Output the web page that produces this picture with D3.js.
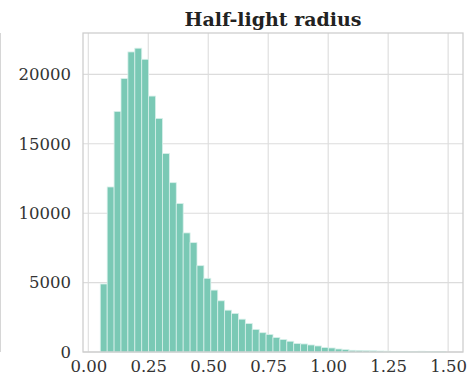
<!DOCTYPE html>
<html>
<head>
<meta charset="utf-8">
<script src="https://cdn.jsdelivr.net/npm/d3@7"></script>
<style>
  html, body { margin: 0; padding: 0; background: #fff; }
  svg { display: block; }
</style>
</head>
<body>
<svg id="chart" width="470" height="384"></svg>
<script>
// ---- data ----
const title = "Half-light radius";
const binStart = 0.05;
const binEnd = 1.49;
const counts = [
  4900, 11890, 17330, 19700, 21620, 21890, 21090, 18440, 16830, 14300,
  12200, 10700, 8580, 7880, 6220, 5310, 4460, 3690, 3015, 2780,
  2365, 2050, 1630, 1390, 1265, 1040, 900, 775, 610, 580,
  507, 435, 319, 290, 217, 174, 123, 116, 95, 85,
  70, 60, 45, 40, 35, 30, 55, 25, 20, 15
];
const xTicks = [0.00, 0.25, 0.50, 0.75, 1.00, 1.25, 1.50];
const yTicks = [0, 5000, 10000, 15000, 20000];

// ---- layout ----
const W = 470, H = 384;
const m = { left: 83, right: 7, top: 33, bottom: 32 };
const svg = d3.select("#chart");
const pw = W - m.left - m.right, ph = H - m.top - m.bottom;

const nb = counts.length;
const bw = (binEnd - binStart) / nb;
const bins = counts.map((c, i) => ({ x0: binStart + i * bw, x1: binStart + (i + 1) * bw, c }));

const span = binEnd - binStart;
const x = d3.scaleLinear()
  .domain([binStart - 0.05 * span, binEnd + 0.05 * span])
  .range([m.left, m.left + pw]);
const ymax = d3.max(counts) * 1.05;
const y = d3.scaleLinear().domain([0, ymax]).range([m.top + ph, m.top]);

// neighbor panel edge remnant
svg.append("line").attr("x1", 0.5).attr("x2", 0.5).attr("y1", m.top).attr("y2", m.top + ph)
  .attr("stroke", "#d6d6d6").attr("stroke-width", 1);

// grid
const g = svg.append("g");
g.selectAll(".vg").data(xTicks).join("line")
  .attr("x1", d => x(d)).attr("x2", d => x(d))
  .attr("y1", m.top).attr("y2", m.top + ph)
  .attr("stroke", "#dcdcdc").attr("stroke-width", 1.1);
g.selectAll(".hg").data(yTicks).join("line")
  .attr("x1", m.left).attr("x2", m.left + pw)
  .attr("y1", d => y(d)).attr("y2", d => y(d))
  .attr("stroke", "#dcdcdc").attr("stroke-width", 1.1);

// bars
svg.append("g").selectAll("rect").data(bins).join("rect")
  .attr("x", d => x(d.x0))
  .attr("width", d => x(d.x1) - x(d.x0))
  .attr("y", d => y(d.c))
  .attr("height", d => y(0) - y(d.c))
  .attr("fill", "#7ac9b5")
  .attr("stroke", "#d8f0ea").attr("stroke-width", 0.8);

// frame
svg.append("rect").attr("x", m.left).attr("y", m.top).attr("width", pw).attr("height", ph)
  .attr("fill", "none").attr("stroke", "#cccccc").attr("stroke-width", 1.25);

// axes
const xAxis = d3.axisBottom(x).tickValues(xTicks).tickFormat(d3.format(".2f")).tickSize(0).tickPadding(8);
const yAxis = d3.axisLeft(y).tickValues(yTicks).tickFormat(d3.format("d")).tickSize(0).tickPadding(12);
const xa = svg.append("g").attr("transform", `translate(0,${m.top + ph})`).call(xAxis);
const ya = svg.append("g").attr("transform", `translate(${m.left},0)`).call(yAxis);
[xa, ya].forEach(a => {
  a.select(".domain").remove();
  a.selectAll("text").attr("font-family", "DejaVu Serif").attr("font-size", 16.5).attr("fill", "#333");
});

// title
svg.append("text").attr("x", m.left + pw / 2).attr("y", 26)
  .attr("text-anchor", "middle").attr("font-family", "DejaVu Serif")
  .attr("font-weight", "bold").attr("font-size", 19).attr("fill", "#222").text(title);
</script>
</body>
</html>
